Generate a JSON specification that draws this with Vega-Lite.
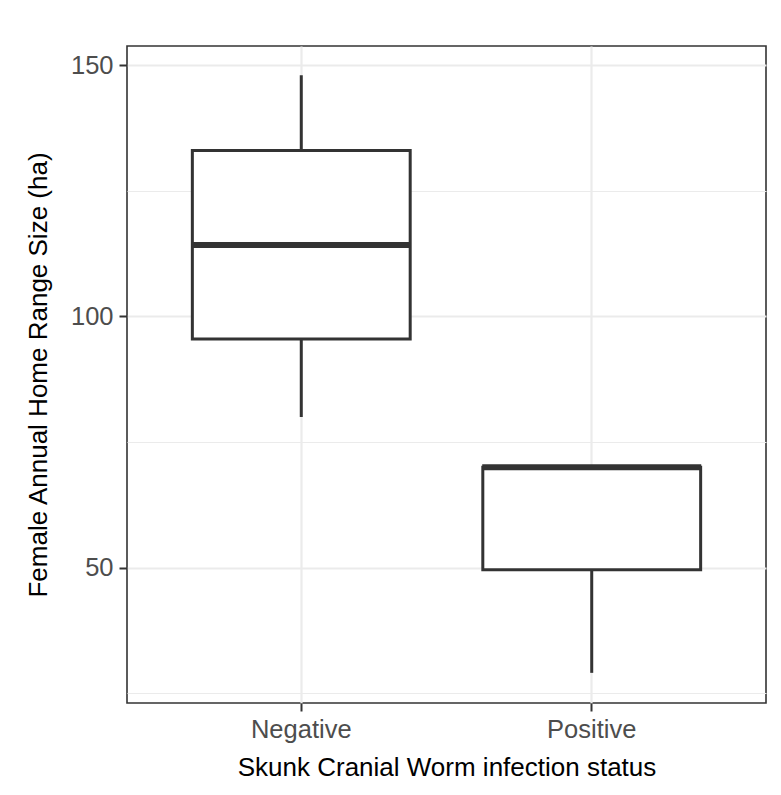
{
  "$schema": "https://vega.github.io/schema/vega-lite/v6.json",
  "width": 639,
  "height": 657,
  "autosize": "none",
  "padding": {"left": 127, "top": 46, "right": 15, "bottom": 92},
  "background": "white",
  "config": {
    "font": "Liberation Sans",
    "view": {"stroke": "#333333", "strokeWidth": 1.6},
    "axis": {
      "domain": false,
      "gridColor": "#EBEBEB",
      "tickColor": "#333333",
      "tickWidth": 2,
      "tickSize": 8,
      "labelColor": "#4D4D4D",
      "labelFont": "Liberation Sans",
      "labelFontSize": 25.5,
      "labelPadding": 6,
      "titleFont": "Liberation Sans",
      "titleFontSize": 26,
      "titleFontWeight": "normal",
      "titleColor": "#000000"
    }
  },
  "data": {
    "values": [
      {"status": "Negative", "lower": 80, "q1": 95.5, "median": 114.2, "q3": 133, "upper": 148},
      {"status": "Positive", "lower": 29.1, "q1": 49.6, "median": 70, "q3": 70, "upper": 70}
    ]
  },
  "encoding": {
    "x": {
      "field": "status",
      "type": "nominal",
      "scale": {"paddingInner": 0.25, "paddingOuter": 0.225},
      "axis": {
        "title": "Skunk Cranial Worm infection status",
        "labelAngle": 0,
        "grid": true,
        "gridWidth": 2.2,
        "titlePadding": 12
      }
    }
  },
  "layer": [
    {
      "mark": {"type": "rule", "color": "#333333", "strokeWidth": 3},
      "encoding": {
        "y": {
          "field": "lower",
          "type": "quantitative",
          "scale": {"domain": [23.1, 153.8], "nice": false, "zero": false},
          "axis": {
            "title": "Female Annual Home Range Size (ha)",
            "values": [25, 50, 75, 100, 125, 150],
            "labelExpr": "datum.value % 50 === 0 ? datum.label : ''",
            "grid": true,
            "gridWidth": {"condition": {"test": "datum.value % 50 === 0", "value": 2.2}, "value": 1.1},
            "tickOpacity": {"condition": {"test": "datum.value % 50 === 0", "value": 1}, "value": 0},
            "titlePadding": 19
          }
        },
        "y2": {"field": "upper"}
      }
    },
    {
      "mark": {"type": "bar", "fill": "white", "stroke": "#333333", "strokeWidth": 3},
      "encoding": {
        "y": {"field": "q1", "type": "quantitative"},
        "y2": {"field": "q3"}
      }
    },
    {
      "mark": {"type": "tick", "color": "#333333", "opacity": 1, "thickness": 6, "size": 219},
      "encoding": {
        "y": {"field": "median", "type": "quantitative"}
      }
    }
  ]
}
